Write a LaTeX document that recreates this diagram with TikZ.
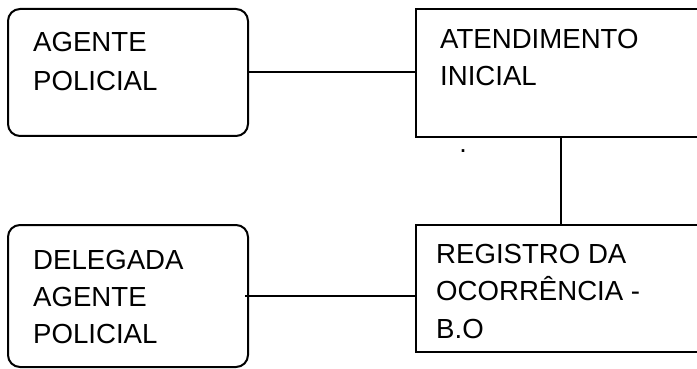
\documentclass[tikz,border=0pt]{standalone}
\usepackage{fontspec}
\setmainfont{Liberation Sans}
\begin{document}
\begin{tikzpicture}[x=1pt,y=-1pt,
  box/.style={draw=black,line width=2pt},
  rbox/.style={box,rounded corners=12pt},
  conn/.style={draw=black,line width=2pt},
  lbl/.style={anchor=base west,inner sep=0pt,align=left,font=\fontsize{27.6}{#1}\selectfont},
  lbl/.default=37]
\useasboundingbox[fill=white] (0,0) rectangle (697,369);
% boxes
\draw[rbox] (8,9) rectangle (248,136);
\coordinate (b1w) at (8,72); \coordinate (b1e) at (248,72);
\draw[rbox] (8,225) rectangle (248,367);
\coordinate (b2e) at (245,296);
\draw[box] (416,9) rectangle (705,137);
\coordinate (b3w) at (416,72); \coordinate (b3s) at (561,137);
\draw[box] (416,225) rectangle (705,352);
\coordinate (b4w) at (416,296); \coordinate (b4n) at (561,225);
% texts (anchored at the baseline of the last line)
\node[lbl=39] (t1) at (33,91) {AGENTE\\POLICIAL};
\node[lbl=36.7] (t2) at (33,343) {DELEGADA\\AGENTE\\POLICIAL};
\node[lbl] (t3) at (440,85) {ATENDIMENTO\\INICIAL};
\node[lbl=37.5] (t4) at (436,338) {REGISTRO DA\\OCORRÊNCIA -\\B.O};
\node[anchor=base,inner sep=0pt,font=\fontsize{27}{37}\selectfont] (dot) at (463,153) {.};
% connectors
\draw[conn] (b1e) -- (b3w);
\draw[conn] (b2e) -- (b4w);
\draw[conn] (b3s) -- (b4n);
\end{tikzpicture}
\end{document}
